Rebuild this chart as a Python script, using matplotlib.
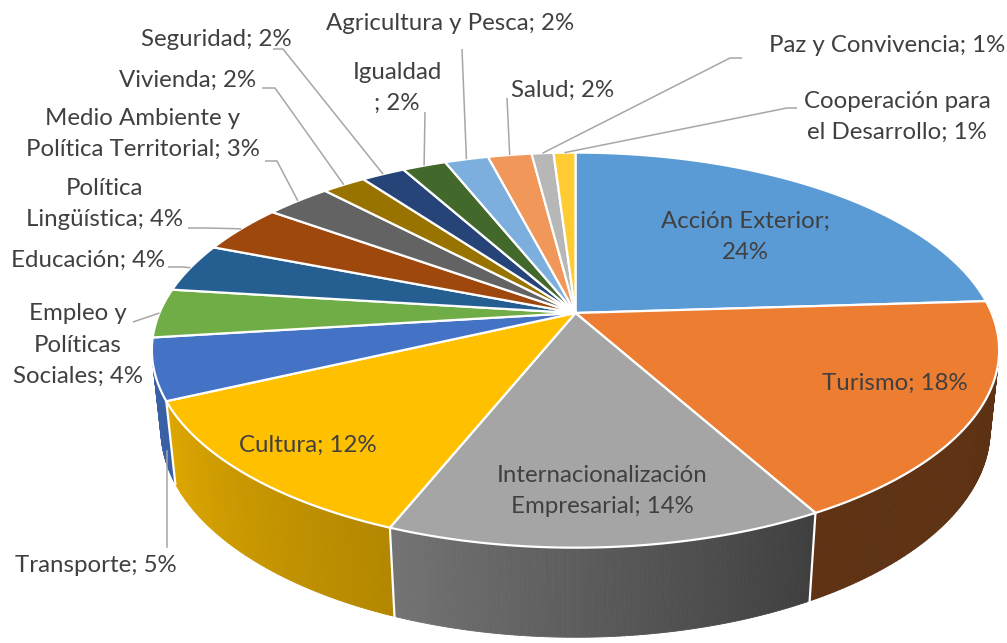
import numpy as np
import matplotlib
matplotlib.use("Agg")
import matplotlib.pyplot as plt
from matplotlib.collections import PolyCollection
from matplotlib.patches import Polygon
import matplotlib.colors as mcolors

# ---------------- data ----------------
categories = ["Acción Exterior", "Turismo", "Internacionalización Empresarial",
              "Cultura", "Transporte", "Empleo y Políticas Sociales", "Educación",
              "Política Lingüística", "Medio Ambiente y Política Territorial",
              "Vivienda", "Seguridad", "Igualdad", "Agricultura y Pesca", "Salud",
              "Paz y Convivencia", "Cooperación para el Desarrollo"]
values = [24, 18, 14, 12, 5, 4, 4, 4, 3, 2, 2, 2, 2, 2, 1, 1]
# label text templates (line breaks as shown in the chart)
label_fmt = ["Acción Exterior;\n{p}%", "Turismo; {p}%", "Internacionalización\nEmpresarial; {p}%",
             "Cultura; {p}%", "Transporte; {p}%", "Empleo y\nPolíticas\nSociales; {p}%",
             "Educación; {p}%", "Política\nLingüística; {p}%",
             "Medio Ambiente y\nPolítica Territorial; {p}%", "Vivienda; {p}%",
             "Seguridad; {p}%", "Igualdad\n; {p}%", "Agricultura y Pesca; {p}%",
             "Salud; {p}%", "Paz y Convivencia; {p}%", "Cooperación para\nel Desarrollo; {p}%"]

# ---------------- style ----------------
colors = ["#5B9BD5", "#ED7D31", "#A5A5A5", "#FFC000", "#4472C4", "#70AD47",
          "#255E91", "#9E480E", "#636363", "#997300", "#264478", "#43682B",
          "#7CAFDD", "#F1975A", "#B7B7B7", "#FFCD33"]
# wall shading (start, end) factor per slice, left->right
wall_shade = {1: (0.40, 0.39), 2: (0.70, 0.38), 3: (0.87, 0.70), 4: (0.86, 0.84)}
text_color = "#404040"
line_color = "#A6A6A6"
FONT = "Lato"
FS = 17.3
LSP = 1.6

# ---------------- perspective model ----------------
CX, CY = 575.5, 313.0
SIN_P = 0.458
COS_P = np.sqrt(1 - SIN_P ** 2)
DIST = 4.73
FOC = 1968.0
H = 0.215


def proj(X, Y, Z=0.0):
    d = DIST + Y * COS_P - Z * SIN_P
    return CX + X * FOC / d, CY - (Y * SIN_P + Z * COS_P) * FOC / d


def rim(theta_deg, Z=0.0):
    t = np.radians(theta_deg)
    return proj(np.cos(t), np.sin(t), Z)


fig = plt.figure(figsize=(10.07, 6.43), dpi=100)
ax = fig.add_axes([0, 0, 1, 1])
ax.set_xlim(0, 1007)
ax.set_ylim(643, 0)
ax.axis("off")

total = float(sum(values))
fracs = np.array(values) / total
cum = np.concatenate([[0], np.cumsum(fracs)])
start_ang = 90 - 360 * cum[:-1]   # clockwise from 12 o'clock
end_ang = 90 - 360 * cum[1:]

# visible wall range: outward normal faces camera
lim = np.degrees(np.arcsin(1.0 / (DIST * COS_P)))
vis_lo, vis_hi = -180 + lim, -lim

# ---- side walls ----
polys, fcs = [], []
for i in range(len(values)):
    a0, a1 = start_ang[i], end_ang[i]  # a0 > a1
    lo, hi = min(a0, a1), max(a0, a1)
    for off in (0, -360):
        l2, h2 = max(lo + off, vis_lo), min(hi + off, vis_hi)
        if h2 <= l2:
            continue
        n = max(int((h2 - l2) / 0.5), 2)
        ts = np.linspace(h2, l2, n + 1)
        base = np.array(mcolors.to_rgb(colors[i]))
        s0, s1 = wall_shade.get(i, (0.85, 0.75))
        for k in range(n):
            tA, tB = ts[k], ts[k + 1]
            pa, pb = rim(tA), rim(tB)
            qa, qb = rim(tA, -H), rim(tB, -H)
            tm = 0.5 * (tA + tB)
            u = (tm - (lo + off)) / (hi - lo)  # 0 at left end, 1 at right end
            fac = s0 + (s1 - s0) * u
            polys.append([pa, pb, qb, qa])
            fcs.append(np.clip(base * fac, 0, 1))
pc = PolyCollection(polys, facecolors=fcs, edgecolors=fcs, linewidths=0.6, zorder=1)
ax.add_collection(pc)

# white separators on wall
for a in end_ang:
    for off in (0, -360):
        t = a + off
        if vis_lo < t < vis_hi:
            p, q = rim(t), rim(t, -H)
            ax.plot([p[0], q[0]], [p[1], q[1]], color="white", lw=1.6, zorder=2)

# ---- top faces ----
for i in range(len(values)):
    ts = np.linspace(start_ang[i], end_ang[i], max(int(abs(end_ang[i] - start_ang[i]) * 2), 4))
    pts = [proj(0, 0)] + [rim(t) for t in ts]
    ax.add_patch(Polygon(pts, closed=True, facecolor=colors[i], edgecolor="white",
                         lw=1.6, joinstyle="round", zorder=3))

# ---- labels ----
pct = [int(round(f * 100)) for f in fracs]
mid_ang = 0.5 * (start_ang + end_ang)

# centre positions of the label texts (layout)
label_pos = {0: (745, 237), 1: (895, 383), 2: (602, 491), 3: (308, 445),
             4: (96, 565), 5: (78, 345), 6: (88, 260), 7: (104, 204),
             8: (143, 134), 9: (188, 80), 10: (216, 40), 11: (397, 88),
             12: (450, 24), 13: (563, 90), 14: (887, 45), 15: (897, 117)}
# leader lines: attach point on label, optional elbow
leaders = {5: [(133, 322)], 6: [(168, 267), (182, 267)], 7: [(188, 228), (207, 228)],
           8: [(265, 161), (277, 161)], 9: [(262, 88), (275, 88)],
           10: [(273, 49), (283, 49)], 11: [(425, 112)], 12: [(462, 49)],
           13: [(507, 98)], 14: [(742, 58), (730, 58)], 15: [(797, 108), (787, 108)]}

for i in range(len(values)):
    x, y = label_pos[i]
    ax.text(x, y, label_fmt[i].format(p=pct[i]), ha="center", va="center",
            fontsize=FS, family=FONT, color=text_color, linespacing=LSP, zorder=5)

for i, pts in leaders.items():
    ex, ey = rim(mid_ang[i])
    xs = [p[0] for p in pts] + [ex]
    ys = [p[1] for p in pts] + [ey]
    ax.plot(xs, ys, color=line_color, lw=1.1, zorder=4, solid_capstyle="butt")

# Transporte: vertical leader to its visible wall
t_tr = start_ang[4] - 0.3 * (start_ang[4] - vis_lo)
wx, wy = rim(t_tr, -0.75 * H)
ax.plot([wx, wx], [547, wy], color=line_color, lw=1.1, zorder=4)

fig.savefig("out.png", dpi=100)
